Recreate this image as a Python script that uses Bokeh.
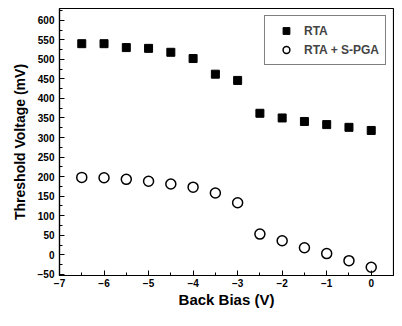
from bokeh.plotting import figure
from bokeh.models import Range1d, FixedTicker, Legend, LegendItem, ColumnDataSource
from bokeh.embed import file_html
from bokeh.resources import INLINE

back_bias = [-6.5, -6.0, -5.5, -5.0, -4.5, -4.0, -3.5, -3.0, -2.5, -2.0, -1.5, -1.0, -0.5, 0.0]
rta = [540, 540, 530, 528, 518, 502, 462, 446, 362, 350, 341, 333, 326, 318]
rta_spga = [198, 197, 193, 188, 181, 173, 158, 133, 53, 36, 18, 3, -15, -32]

x_ticks = [-7, -6, -5, -4, -3, -2, -1, 0]
y_ticks = list(range(-50, 601, 50))

FONT = "Liberation Sans"

p = figure(width=394, height=310, output_backend="svg", toolbar_location=None,
           x_range=Range1d(-7, 0.5), y_range=Range1d(-53, 630),
           min_border_left=59, min_border_right=1, min_border_top=8, min_border_bottom=30)
p.grid.visible = False
p.outline_line_color = "black"
p.outline_line_width = 1.2
p.background_fill_color = "white"
p.border_fill_color = "white"

src = ColumnDataSource(dict(x=back_bias, a=rta, b=rta_spga))
r1 = p.scatter("x", "a", source=src, marker="square", size=8, fill_color="black", line_color="black")
r2 = p.scatter("x", "b", source=src, marker="circle", size=10, fill_color=None, line_color="black", line_width=1.5)

for ax in (p.xaxis[0], p.yaxis[0]):
    ax.major_tick_in = 5
    ax.major_tick_out = 0
    ax.minor_tick_in = 3
    ax.minor_tick_out = 0
    ax.axis_line_width = 1.2
    ax.major_label_text_font = FONT
    ax.major_label_text_font_style = "bold"
    ax.major_label_text_font_size = "10px"
    ax.major_label_text_color = "black"
    ax.axis_label_text_font = FONT
    ax.axis_label_text_font_style = "bold"
    ax.axis_label_text_color = "black"

p.xaxis.ticker = FixedTicker(ticks=x_ticks, minor_ticks=[v / 2 for v in range(-14, 2)])
p.yaxis.ticker = FixedTicker(ticks=y_ticks, minor_ticks=list(range(-50, 626, 25)))
p.xaxis.axis_label = "Back Bias (V)"
p.yaxis.axis_label = "Threshold Voltage (mV)"
p.xaxis.axis_label_text_font_size = "15px"
p.yaxis.axis_label_text_font_size = "14px"
p.xaxis.major_label_standoff = 3
p.xaxis.axis_label_standoff = 1
p.yaxis.major_label_standoff = 5
p.yaxis.axis_label_standoff = 7

legend = Legend(items=[LegendItem(label="RTA", renderers=[r1]),
                       LegendItem(label="RTA + S-PGA", renderers=[r2])],
                location="top_right")
legend.label_text_font = FONT
legend.label_text_font_style = "bold"
legend.label_text_font_size = "12px"
legend.border_line_color = "black"
legend.border_line_width = 1
legend.margin = 7
legend.padding = 6
legend.spacing = 2
legend.label_height = 17
legend.glyph_height = 17
legend.glyph_width = 30
legend.label_standoff = 3
legend.background_fill_alpha = 1
p.add_layout(legend)

open("out.html", "w").write(file_html(p, INLINE))
